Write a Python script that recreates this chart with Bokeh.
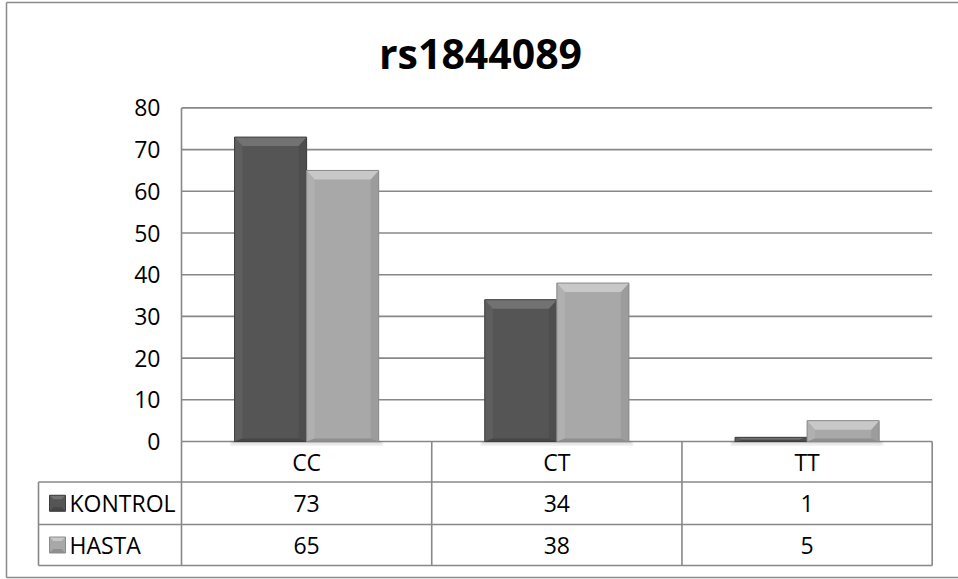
from bokeh.plotting import figure
from bokeh.models import Range1d, FixedTicker
from bokeh.core.properties import value
from bokeh.embed import file_html
from bokeh.resources import INLINE

# ---------------- data ----------------
title = "rs1844089"
categories = ["CC", "CT", "TT"]
series_names = ["KONTROL", "HASTA"]
kontrol = [73, 34, 1]
hasta = [65, 38, 5]
y_ticks = [0, 10, 20, 30, 40, 50, 60, 70, 80]

# ---------------- layout (pixels) ----------------
W, H = 958, 579
X0_PX = 181.0          # left edge of first category column
CAT_PX = 250.23        # width of one category column
Y0_PX = 441.0          # baseline (value 0)
UNIT_PX = 4.17         # pixels per value unit
ROW_PX = [441.0, 481.5, 524.0, 565.0]  # table row boundaries
TABLE_LEFT_PX = 38.0
BAR_W = 0.288          # bar width in category units
FONT = "Open Sans"
FS = "23px"
GRID_COL = "#888888"


def X(px):
    return (px - X0_PX) / CAT_PX


def Y(py):
    return (Y0_PX - py) / UNIT_PX


p = figure(width=W, height=H,
           x_range=Range1d(X(0), X(W)), y_range=Range1d(Y(H), Y(0)),
           output_backend="svg", toolbar_location=None,
           x_axis_location=None, min_border=0)
p.outline_line_color = None
p.xgrid.visible = False
p.ygrid.visible = False
p.background_fill_color = "white"
p.border_fill_color = "white"

# y axis placed at the left edge of the plot area
yax = p.yaxis[0]
yax.fixed_location = 0
yax.ticker = FixedTicker(ticks=y_ticks)
yax.axis_line_color = None
yax.major_tick_line_color = None
yax.minor_tick_line_color = None
yax.major_tick_out = 0
yax.major_tick_in = 0
yax.major_label_standoff = 21
yax.major_label_text_font = FONT
yax.major_label_text_font_size = FS
yax.major_label_text_color = "black"

ncat = len(categories)

# gridlines
p.segment(x0=[0] * len(y_ticks), y0=y_ticks, x1=[ncat] * len(y_ticks), y1=y_ticks,
          line_color=GRID_COL, line_width=1.6)

# ---------------- beveled bars ----------------
def bevel_parts(l, r, b, t, bpx=9.0, spx=8.0, bottom_px=3.0):
    bx = min(spx / CAT_PX, (r - l) / 2)
    by = min(bpx / UNIT_PX, (t - b) / 2)
    bb = min(bottom_px / UNIT_PX, (t - b) / 3)
    top = ([l, r, r - bx, l + bx], [t, t, t - by, t - by])
    left = ([l, l + bx, l + bx, l], [t, t - by, b + bb, b])
    right = ([r, r - bx, r - bx, r], [t, t - by, b + bb, b])
    bottom = ([l, r, r - bx, l + bx], [b, b, b + bb, b + bb])
    return top, left, right, bottom


styles = {
    "KONTROL": dict(main="#555555", top="#727272", left="#5e5e5e", right="#4e4e4e",
                    bottom="#464646", edge="#3e3e3e"),
    "HASTA": dict(main="#a8a8a8", top="#c8c8c8", left="#b0b0b0", right="#9c9c9c",
                  bottom="#8f8f8f", edge="#8a8a8a"),
}


def draw_bevel_boxes(name, boxes):
    st = styles[name]
    parts = {"top": ([], []), "left": ([], []), "right": ([], []), "bottom": ([], [])}
    for (l, r, b, t) in boxes:
        tp, lf, rt, bt = bevel_parts(l, r, b, t)
        for key, part in zip(["top", "left", "right", "bottom"], [tp, lf, rt, bt]):
            parts[key][0].append(part[0])
            parts[key][1].append(part[1])
    p.quad(left=[bx[0] for bx in boxes], right=[bx[1] for bx in boxes],
           bottom=[bx[2] for bx in boxes], top=[bx[3] for bx in boxes],
           fill_color=st["main"], line_color=None)
    for key in ["left", "right", "bottom", "top"]:
        p.patches(xs=parts[key][0], ys=parts[key][1], fill_color=st[key], line_color=None)
    p.quad(left=[bx[0] for bx in boxes], right=[bx[1] for bx in boxes],
           bottom=[bx[2] for bx in boxes], top=[bx[3] for bx in boxes],
           fill_color=None, line_color=st["edge"], line_width=1)


# soft shadow under bars
centers = [i + 0.5 for i in range(ncat)]
for k in range(3):
    sh = (3 - k) * 1.5
    p.quad(left=[c - BAR_W - sh / CAT_PX for c in centers],
           right=[c + BAR_W + sh / CAT_PX for c in centers],
           bottom=[Y(Y0_PX + sh)] * ncat, top=[Y(Y0_PX)] * ncat,
           fill_color="#000000", fill_alpha=0.05, line_color=None)

k_boxes = [(c - BAR_W, c, 0, v) for c, v in zip(centers, kontrol)]
h_boxes = [(c, c + BAR_W, 0, v) for c, v in zip(centers, hasta)]
draw_bevel_boxes("KONTROL", k_boxes)
draw_bevel_boxes("HASTA", h_boxes)

# ---------------- data table ----------------
xl = X(TABLE_LEFT_PX)
ry = [Y(py) for py in ROW_PX]
# vertical lines of category columns
p.segment(x0=list(range(ncat + 1)), y0=[ry[0]] * (ncat + 1),
          x1=list(range(ncat + 1)), y1=[ry[3]] * (ncat + 1),
          line_color=GRID_COL, line_width=1.6)
# axis line of the plot area (left edge)
p.segment(x0=[0], y0=[max(y_ticks)], x1=[0], y1=[0], line_color=GRID_COL, line_width=1.6)
# horizontal table lines
p.segment(x0=[xl, xl, xl], y0=[ry[1], ry[2], ry[3]], x1=[ncat] * 3, y1=[ry[1], ry[2], ry[3]],
          line_color=GRID_COL, line_width=1.6)
# left edge of the series-name column
p.segment(x0=[xl], y0=[ry[1]], x1=[xl], y1=[ry[3]], line_color=GRID_COL, line_width=1.6)

# category labels
row_mid = [(ry[i] + ry[i + 1]) / 2 for i in range(3)]
p.text(x=centers, y=[row_mid[0]] * ncat, text=categories,
       text_font=value(FONT), text_font_size=value(FS), text_color="black",
       text_align="center", text_baseline="middle")
# values
for ri, vals in enumerate([kontrol, hasta]):
    p.text(x=centers, y=[row_mid[ri + 1]] * ncat, text=[str(v) for v in vals],
           text_font=value(FONT), text_font_size=value(FS), text_color="black",
           text_align="center", text_baseline="middle")

# series names with legend keys
p.text(x=[X(69)] * 2, y=[row_mid[1], row_mid[2]], text=series_names,
       text_font=value(FONT), text_font_size=value(FS), text_color="black",
       text_align="left", text_baseline="middle")
key_half_x = 8.0 / CAT_PX
key_half_y = 8.0 / UNIT_PX
kx = X(57)
for ri, name in enumerate(series_names):
    cy = row_mid[ri + 1]
    st = styles[name]
    l, r, b, t = kx - key_half_x, kx + key_half_x, cy - key_half_y, cy + key_half_y
    ex = 4.0 / CAT_PX
    ey = 4.0 / UNIT_PX
    p.quad(left=[l], right=[r], bottom=[b], top=[t], fill_color=st["main"], line_color=None)
    p.patches(xs=[[l, r, r - ex, l + ex]], ys=[[t, t, t - ey, t - ey]],
              fill_color=st["top"], line_color=None)
    p.patches(xs=[[l, r, r - ex, l + ex]], ys=[[b, b, b + ey, b + ey]],
              fill_color=st["bottom"], line_color=None)
    p.quad(left=[l], right=[r], bottom=[b], top=[t], fill_color=None,
           line_color=st["edge"], line_width=1)

# ---------------- title ----------------
p.text(x=[X(480)], y=[Y(52)], text=[title], text_font=value(FONT),
       text_font_size=value("41px"), text_font_style="bold", text_color="black",
       text_align="center", text_baseline="middle")

# ---------------- outer chart border ----------------
p.segment(x0=[X(6), X(6), X(6)], y0=[Y(2), Y(2), Y(577)],
          x1=[X(W + 5), X(6), X(W + 5)], y1=[Y(2), Y(577), Y(577)],
          line_color="#8a8a8a", line_width=1.5)

open("out.html", "w").write(file_html(p, INLINE))
